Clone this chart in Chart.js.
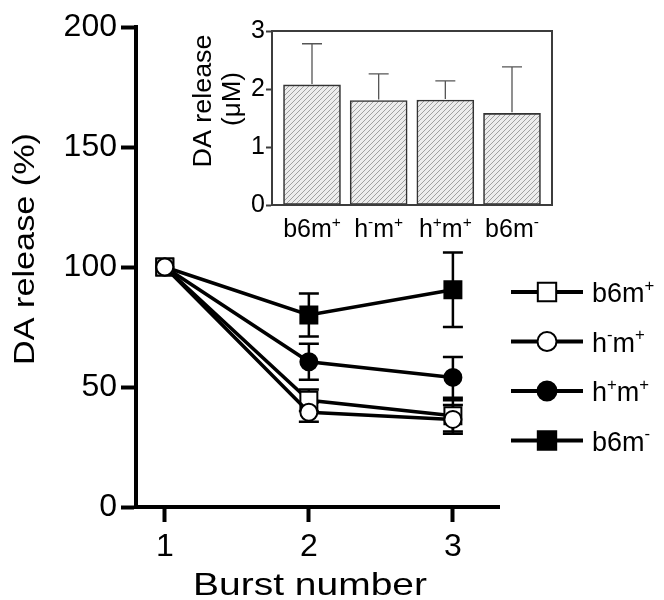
<!DOCTYPE html>
<html><head><meta charset="utf-8">
<script src="https://cdn.jsdelivr.net/npm/chart.js@4"></script>
<style>
html,body{margin:0;padding:0;background:#fff;}
#wrap{position:relative;width:664px;height:600px;overflow:hidden;}
#main{position:absolute;left:0;top:0;}
#inset{position:absolute;left:180px;top:0;}
</style></head><body>
<div id="wrap"><canvas id="main" width="664" height="600"></canvas><canvas id="inset" width="400" height="245"></canvas></div>
<script>
// ---------- data ----------
const bursts = [1, 2, 3];
const seriesNames = ['b6m⁺', 'h⁻m⁺', 'h⁺m⁺', 'b6m⁻'];
const b6mPlus = [100, 44.5, 38];
const b6mPlusErr = [0, 4.5, 6.5];
const hMinusMPlus = [100, 39.5, 36.5];
const hMinusMPlusErr = [0, 4, 6];
const hPlusMPlus = [100, 60.5, 54];
const hPlusMPlusErr = [0, 7.5, 8.5];
const b6mMinus = [100, 80, 90.5];
const b6mMinusErr = [0, 9, 15.5];
const mainYTicks = [0, 50, 100, 150, 200];
const mainXTitle = 'Burst number';
const mainYTitle = 'DA release (%)';

const insetCategories = ['b6m⁺', 'h⁻m⁺', 'h⁺m⁺', 'b6m⁻'];
const insetValues = [2.07, 1.80, 1.81, 1.58];
const insetErr = [0.71, 0.46, 0.33, 0.80];
const insetYTicks = [0, 1, 2, 3];
const insetYTitle = ['DA release', '(μM)'];

// ---------- helpers ----------
const FONT = '"Liberation Sans", Arial, Helvetica, sans-serif';
function segs(text){
  const out=[];
  for (const ch of text){
    if (ch==='⁺') out.push({t:'+',sup:true});
    else if (ch==='⁻') out.push({t:'-',sup:true});
    else out.push({t:ch,sup:false});
  }
  return out;
}
function drawSupText(ctx, text, x, y, size, align){
  const s = segs(text);
  const supSize = size*0.62;
  let w=0;
  for (const p of s){ ctx.font = (p.sup?supSize:size)+'px '+FONT; p.w = ctx.measureText(p.t).width; w+=p.w; }
  let cx = align==='center' ? x-w/2 : x;
  ctx.save();
  ctx.textBaseline='alphabetic'; ctx.textAlign='left'; ctx.fillStyle='#000';
  for (const p of s){
    ctx.font = (p.sup?supSize:size)+'px '+FONT;
    ctx.fillText(p.t, cx, p.sup ? y - size*0.42 : y);
    cx += p.w;
  }
  ctx.restore();
}
function drawTitle(ctx, text, cx, baseY, size, targetW, rot){
  ctx.save();
  ctx.translate(cx, baseY);
  ctx.rotate(rot);
  ctx.font = size+'px '+FONT;
  const w = ctx.measureText(text).width;
  if (targetW) ctx.scale(targetW/w, 1);
  ctx.textAlign='center'; ctx.textBaseline='alphabetic'; ctx.fillStyle='#000';
  ctx.fillText(text, 0, 0);
  ctx.restore();
}

// ---------- main chart ----------
const seriesStyle = [
  {data:b6mPlus, err:b6mPlusErr, pointStyle:'rect', fill:'#fff', radius:12, order:1},
  {data:hMinusMPlus, err:hMinusMPlusErr, pointStyle:'circle', fill:'#fff', radius:8.5, order:0},
  {data:hPlusMPlus, err:hPlusMPlusErr, pointStyle:'circle', fill:'#000', radius:8.5, order:2},
  {data:b6mMinus, err:b6mMinusErr, pointStyle:'rect', fill:'#000', radius:12, order:3}
];
const datasets = seriesStyle.map((s,k)=>({
  label: seriesNames[k],
  data: bursts.map((b,i)=>({x:b, y:s.data[i]})),
  errors: s.err,
  borderColor:'#000', borderWidth:3.5, tension:0, fill:false,
  pointStyle:s.pointStyle, pointRadius:s.radius, pointHoverRadius:s.radius,
  pointBackgroundColor:s.fill, pointBorderColor:'#000', pointBorderWidth:2,
  order:s.order
}));

const mainErrPlugin = {
  id:'mainErr',
  beforeDatasetsDraw(chart){
    const ctx=chart.ctx, xs=chart.scales.x, ys=chart.scales.y;
    ctx.save(); ctx.strokeStyle='#000'; ctx.lineWidth=2.5;
    chart.data.datasets.forEach(ds=>{
      ds.data.forEach((p,i)=>{
        const e=ds.errors[i]; if(!e) return;
        const x=xs.getPixelForValue(p.x), y1=ys.getPixelForValue(p.y+e), y0=ys.getPixelForValue(p.y-e);
        ctx.beginPath();
        ctx.moveTo(x,y0); ctx.lineTo(x,y1);
        ctx.moveTo(x-10,y1); ctx.lineTo(x+10,y1);
        ctx.moveTo(x-10,y0); ctx.lineTo(x+10,y0);
        ctx.stroke();
      });
    });
    ctx.restore();
  }
};
const legendPlugin = {
  id:'legendCustom',
  afterDraw(chart){
    const ctx=chart.ctx;
    [0,1,2,3].forEach((k,r)=>{
      const ds=chart.data.datasets[k];
      const y=292 + r*49.5;
      ctx.save();
      ctx.strokeStyle='#000'; ctx.lineWidth=4;
      ctx.beginPath(); ctx.moveTo(511,y); ctx.lineTo(583,y); ctx.stroke();
      ctx.fillStyle=ds.pointBackgroundColor; ctx.strokeStyle='#000'; ctx.lineWidth=2;
      Chart.helpers.drawPoint(ctx,{pointStyle:ds.pointStyle, radius: ds.pointStyle==='rect'?13:9.5, borderWidth:2}, 547, y);
      ctx.restore();
      drawSupText(ctx, ds.label, 592, y+10, 27, 'left');
    });
    // axis titles
    drawTitle(ctx, mainXTitle, 310, 595, 32, 234, 0);
    drawTitle(ctx, mainYTitle, 34, 249, 30, 232, -Math.PI/2);
  }
};

new Chart(document.getElementById('main'), {
  type:'line',
  data:{datasets},
  options:{
    responsive:false, animation:false, devicePixelRatio:1,
    layout:{padding:{left:0, right:165, top:27, bottom:0}},
    plugins:{legend:{display:false}, tooltip:{enabled:false}},
    scales:{
      x:{type:'linear', min:0.8, max:3.32,
        afterBuildTicks(s){ s.ticks = bursts.map(v=>({value:v})); },
        ticks:{color:'#000', font:{family:FONT, size:32}, padding:6, callback:v=>String(v)},
        grid:{display:true, drawOnChartArea:false, drawTicks:true, tickLength:15, tickWidth:4, tickColor:'#000'},
        border:{display:true, color:'#000', width:4},
        title:{display:false, text:mainXTitle},
        afterFit(s){ s.height = 93; }
      },
      y:{type:'linear', min:0, max:200,
        afterBuildTicks(s){ s.ticks = mainYTicks.map(v=>({value:v})); },
        ticks:{color:'#000', font:{family:FONT, size:32}, padding:4},
        grid:{display:true, drawOnChartArea:false, drawTicks:true, tickLength:15, tickWidth:4, tickColor:'#000'},
        border:{display:true, color:'#000', width:4},
        title:{display:false, text:mainYTitle},
        afterFit(s){ s.width = 136; }
      }
    }
  },
  plugins:[mainErrPlugin, legendPlugin]
});

// ---------- inset chart ----------
const insetCanvas = document.getElementById('inset');
function hatch(ctx){
  const c=document.createElement('canvas'); c.width=5; c.height=5;
  const g=c.getContext('2d');
  g.fillStyle='#ececec'; g.fillRect(0,0,5,5);
  g.strokeStyle='#a0a0a0'; g.lineWidth=1;
  g.beginPath(); g.moveTo(0,5); g.lineTo(5,0); g.moveTo(-1,1); g.lineTo(1,-1); g.moveTo(4,6); g.lineTo(6,4); g.stroke();
  return ctx.createPattern(c,'repeat');
}
const insetErrPlugin = {
  id:'insetErr',
  afterDatasetsDraw(chart){
    const ctx=chart.ctx, xs=chart.scales.x, ys=chart.scales.y;
    const ds=chart.data.datasets[0];
    ctx.save(); ctx.strokeStyle='#555'; ctx.lineWidth=1.3;
    ds.data.forEach((p,i)=>{
      const x=xs.getPixelForValue(p.x), y0=ys.getPixelForValue(p.y), y1=ys.getPixelForValue(p.y+ds.errors[i]);
      ctx.beginPath(); ctx.moveTo(x,y0-1); ctx.lineTo(x,y1); ctx.moveTo(x-10,y1); ctx.lineTo(x+10,y1); ctx.stroke();
    });
    const a=chart.chartArea;
    ctx.strokeStyle='#3c3c3c'; ctx.lineWidth=2;
    ctx.strokeRect(a.left, a.top, a.right-a.left, a.bottom-a.top);
    ctx.restore();
    insetCategories.forEach((c,i)=>{
      drawSupText(ctx, c, xs.getPixelForValue(i+1), 237, 25, 'center');
    });
    drawTitle(ctx, insetYTitle[0], 31, 101, 26, 133, -Math.PI/2);
    drawTitle(ctx, insetYTitle[1], 60, 99, 26, null, -Math.PI/2);
  }
};
new Chart(insetCanvas, {
  type:'bar',
  data:{datasets:[{
    data: insetValues.map((v,i)=>({x:i+1, y:v})),
    errors: insetErr,
    backgroundColor: hatch(insetCanvas.getContext('2d')),
    borderColor:'#333', borderWidth:1.6, borderSkipped:false, barThickness:57
  }]},
  options:{
    responsive:false, animation:false, devicePixelRatio:1,
    layout:{padding:{left:0, right:28, top:31, bottom:0}},
    plugins:{legend:{display:false}, tooltip:{enabled:false}},
    scales:{
      x:{type:'linear', min:0.4, max:4.6, offset:false,
        ticks:{display:false},
        grid:{display:false},
        border:{display:true, color:'#3c3c3c', width:2},
        afterFit(s){ s.height = 40; }
      },
      y:{type:'linear', min:0, max:3,
        afterBuildTicks(s){ s.ticks = insetYTicks.map(v=>({value:v})); },
        ticks:{color:'#000', font:{family:FONT, size:25}, padding:1},
        grid:{display:true, drawOnChartArea:false, drawTicks:true, tickLength:6, tickWidth:2, tickColor:'#3c3c3c'},
        border:{display:true, color:'#3c3c3c', width:2},
        title:{display:false},
        afterFit(s){ s.width = 92; }
      }
    }
  },
  plugins:[insetErrPlugin]
});
</script>
</body></html>
